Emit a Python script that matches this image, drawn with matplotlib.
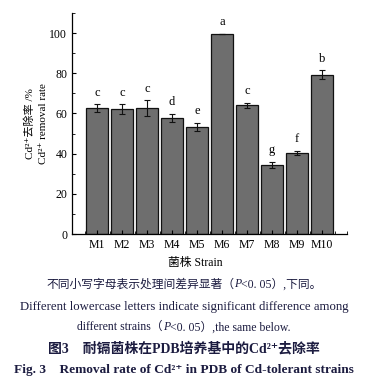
import matplotlib.pyplot as plt
from matplotlib.ticker import MultipleLocator

strains = ['M1', 'M2', 'M3', 'M4', 'M5', 'M6', 'M7', 'M8', 'M9', 'M10']
removal = [62.5, 62.2, 62.6, 57.8, 53.2, 99.5, 64.0, 34.3, 40.5, 79.2]
errors = [2.0, 2.3, 4.0, 2.0, 2.0, 0.0, 1.2, 1.6, 1.0, 2.2]
letters = ['c', 'c', 'c', 'd', 'e', 'a', 'c', 'g', 'f', 'b']

FAM = ['Liberation Serif', 'Noto Sans CJK SC', 'DejaVu Sans']
plt.rcParams['font.family'] = FAM

fig = plt.figure(figsize=(3.68, 3.83), dpi=100)
ax = fig.add_axes([0.196, 0.389, 0.747, 0.577])

x = list(range(1, len(strains) + 1))
ax.bar(x, removal, width=0.86, color='#6e6e6e', edgecolor='#111111', linewidth=0.9,
       yerr=errors, error_kw=dict(ecolor='#111111', elinewidth=0.8, capsize=2.2, capthick=0.8))
for xi, v, e, l in zip(x, removal, errors, letters):
    ax.text(xi, v + e + 2.8, l, ha='center', va='bottom', fontsize=9)

ax.set_xlim(0, 11)
ax.set_ylim(0, 110)
ax.set_xticks(x)
ax.set_xticklabels(strains)
ax.set_yticks([0, 20, 40, 60, 80, 100])
ax.yaxis.set_minor_locator(MultipleLocator(10))
ax.xaxis.set_minor_locator(MultipleLocator(0.5))
ax.tick_params(direction='in', labelsize=8.5, length=3, width=0.8)
ax.tick_params(which='minor', direction='in', length=2, width=0.6)
ax.spines['top'].set_visible(False)
ax.spines['right'].set_visible(False)
for s in ['left', 'bottom']:
    ax.spines[s].set_linewidth(0.9)

fig.text(0.080, 0.677, 'Cd²⁺去除率 /%', rotation=90, ha='center', va='center', fontsize=8)
fig.text(0.117, 0.677, 'Cd²⁺ removal rate', rotation=90, ha='center', va='center', fontsize=8)
fig.text(0.53, 0.313, '菌株 Strain', ha='center', va='center', fontsize=8.5)

navy = '#1c1c40'
renderer = fig.canvas.get_renderer()


def seg_line(y, parts, size, weight='normal'):
    # place text pieces side by side, centred as one line
    texts = []
    for s, style in parts:
        t = fig.text(0, y, s, ha='left', va='center', fontsize=size, fontweight=weight,
                     fontstyle=style, color=navy)
        texts.append(t)
    widths = [t.get_window_extent(renderer).width for t in texts]
    total = sum(widths)
    W = fig.bbox.width
    xpos = (W - total) / 2
    for t, w in zip(texts, widths):
        t.set_x(xpos / W)
        xpos += w


seg_line(0.258, [('不同小写字母表示处理间差异显著（', 'normal'), ('P', 'italic'),
                 ('<0. 05）,下同。', 'normal')], 8.5)
seg_line(0.198, [('Different lowercase letters indicate significant difference among', 'normal')], 9.2)
seg_line(0.146, [('different strains（', 'normal'), ('P', 'italic'),
                 ('<0. 05）,the same below.', 'normal')], 8.5)
seg_line(0.089, [('图3    耐镉菌株在PDB培养基中的Cd²⁺去除率', 'normal')], 10, 'bold')
seg_line(0.034, [('Fig. 3    Removal rate of Cd²⁺ in PDB of Cd-tolerant strains', 'normal')], 9.6, 'bold')

fig.savefig('out.png', dpi=100)
